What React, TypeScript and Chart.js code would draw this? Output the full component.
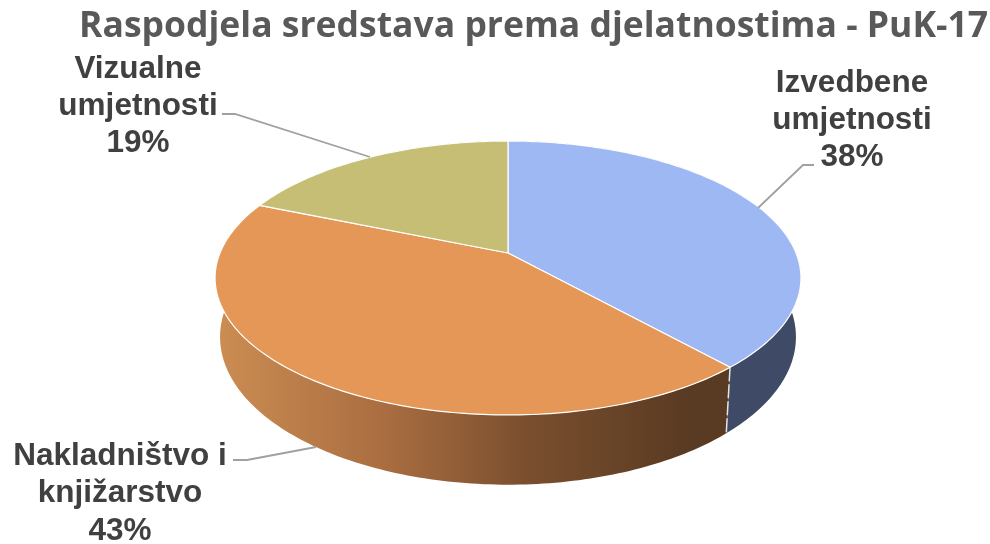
import React, { useEffect, useRef } from "react";
import { Chart, registerables } from "chart.js";

Chart.register(...registerables);

const titleText = "Raspodjela sredstava prema djelatnostima - PuK-17";
const categories = [
  ["Izvedbene", "umjetnosti"],
  ["Nakladništvo i", "knjižarstvo"],
  ["Vizualne", "umjetnosti"],
];
const shares = [38.4, 42.9, 18.7];

const faceColors = ["#9DB8F2", "#E59757", "#C5BE74"];
const TEXT = "#404040";
const LEADER = "#A0A0A0";

// Projection of the flat pie disc onto the tilted, perspective view.
const CX = 508;
const CY = 253;
const XR = 288;
const YR = 132.4;
const K = 0.1825;
const DEPTH = 57;
const SHRINK = 0.983;

function top(a: number): [number, number] {
  const u = Math.cos(a);
  const v = Math.sin(a);
  const w = 1 - K * v;
  return [CX + (XR * u) / w, CY + (YR * v) / w];
}
function bottom(a: number): [number, number] {
  const [x, y] = top(a);
  const w = 1 - K * Math.sin(a);
  return [CX + (x - CX) * SHRINK, y + DEPTH / w];
}
function samples(a0: number, a1: number) {
  const n = Math.max(2, Math.ceil(((a1 - a0) * 180) / Math.PI));
  const r: number[] = [];
  for (let i = 0; i <= n; i++) r.push(a0 + ((a1 - a0) * i) / n);
  return r;
}

const labelLayout = [
  { x: 852, ys: [92, 129, 166], leader: [[814, 165], [803, 165], [758, 208]] },
  { x: 120, ys: [465, 502, 540], leader: [[233, 460], [247, 460], [316, 447]] },
  { x: 138, ys: [78, 115, 152], leader: [[222, 114], [235, 114], [370, 157]] },
];

const pie3d = {
  id: "pie3d",
  beforeDatasetDraw(chart: any) {
    const ctx = chart.ctx as CanvasRenderingContext2D;
    const arcs = chart.getDatasetMeta(0).data as any[];
    ctx.save();
    // side wall
    const orangeGrad = ctx.createLinearGradient(222, 0, 690, 0);
    orangeGrad.addColorStop(0, "#CB8C52");
    orangeGrad.addColorStop(0.35, "#A96D40");
    orangeGrad.addColorStop(0.65, "#7A4F2E");
    orangeGrad.addColorStop(1, "#593A22");
    const wallFill = ["#3F4A66", orangeGrad, "#6E6A40"];
    [2, 0, 1].forEach((i) => {
      const el = arcs[i];
      const ang = samples(el.startAngle, el.endAngle);
      ctx.beginPath();
      ang.forEach((a, j) => {
        const [x, y] = top(a);
        if (j === 0) ctx.moveTo(x, y);
        else ctx.lineTo(x, y);
      });
      [...ang].reverse().forEach((a) => {
        const [x, y] = bottom(a);
        ctx.lineTo(x, y);
      });
      ctx.closePath();
      ctx.fillStyle = wallFill[i];
      ctx.fill();
    });
    // seam on the wall between the front slices
    const seam = arcs[0].endAngle;
    ctx.beginPath();
    ctx.moveTo(...top(seam));
    ctx.lineTo(...bottom(seam));
    ctx.strokeStyle = "#E8E4DE";
    ctx.lineWidth = 1.5;
    ctx.setLineDash([14, 3]);
    ctx.stroke();
    ctx.setLineDash([]);
    // top faces
    arcs.forEach((el: any) => {
      ctx.beginPath();
      ctx.moveTo(CX, CY);
      samples(el.startAngle, el.endAngle).forEach((a) => ctx.lineTo(...top(a)));
      ctx.closePath();
      ctx.fillStyle = el.options.backgroundColor;
      ctx.fill();
      ctx.strokeStyle = "#FFFFFF";
      ctx.lineWidth = 1.2;
      ctx.lineJoin = "round";
      ctx.stroke();
    });
    ctx.restore();
    return false;
  },
  afterDatasetsDraw(chart: any) {
    const ctx = chart.ctx as CanvasRenderingContext2D;
    const labels = chart.data.labels as string[][];
    const values = chart.data.datasets[0].data as number[];
    const total = values.reduce((s, v) => s + v, 0);
    ctx.save();
    labels.forEach((lines, i) => {
      const l = labelLayout[i];
      ctx.beginPath();
      l.leader.forEach(([x, y], j) => (j === 0 ? ctx.moveTo(x, y) : ctx.lineTo(x, y)));
      ctx.strokeStyle = LEADER;
      ctx.lineWidth = 1.8;
      ctx.stroke();
      ctx.font = "bold 31.5px 'Liberation Sans'";
      ctx.fillStyle = TEXT;
      ctx.textAlign = "center";
      ctx.textBaseline = "alphabetic";
      const pct = `${Math.round((values[i] / total) * 100)}%`;
      [...lines, pct].forEach((t, j) => ctx.fillText(t, l.x, l.ys[j]));
    });
    ctx.restore();
  },
};

export default function App() {
  const ref = useRef<HTMLCanvasElement | null>(null);
  useEffect(() => {
    if (!ref.current) return;
    const chart = new Chart(ref.current, {
      type: "pie",
      data: {
        labels: categories as any,
        datasets: [{ data: shares, backgroundColor: faceColors, borderWidth: 0 }],
      },
      options: {
        responsive: false,
        animation: false,
        events: [],
        layout: { padding: { right: 2 } },
        plugins: {
          legend: { display: false },
          tooltip: { enabled: false },
          title: {
            display: true,
            text: titleText,
            align: "end",
            color: "#595959",
            font: { family: "Open Sans", size: 35.5, weight: "bold" },
            padding: { top: 6, bottom: 10 },
          },
        },
      },
      plugins: [pie3d],
    } as any);
    return () => chart.destroy();
  }, []);
  return (
    <div style={{ position: "absolute", left: 0, top: 0, width: 990, height: 544, background: "#fff" }}>
      <canvas ref={ref} width={990} height={544} style={{ display: "block", filter: "blur(0.4px)" }} />
    </div>
  );
}
